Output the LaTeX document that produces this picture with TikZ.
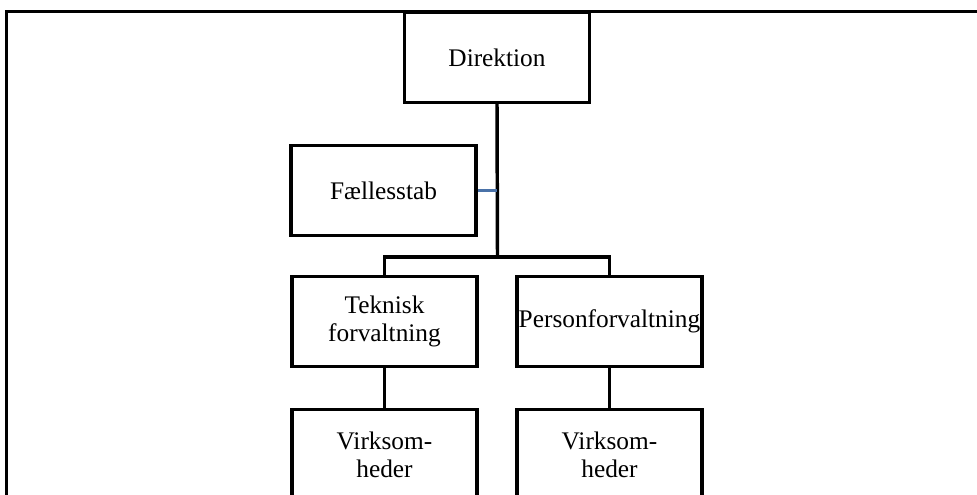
\documentclass[tikz,border=0pt]{standalone}
\usepackage{fontspec}
\setmainfont{Liberation Serif}
\definecolor{stabblue}{HTML}{4A72A8}

\begin{document}
\begin{tikzpicture}[x=0.75pt,y=-0.75pt,
  box/.style={draw,line width=2.6pt,minimum width=139pt,minimum height=67.5pt,
    inner sep=0pt,align=center,font=\fontsize{19}{21}\selectfont},
  link/.style={line width=2.6pt},
  stablink/.style={line width=2.4pt,draw=stabblue}]
\useasboundingbox (0,0) rectangle (977,495);
\clip (0,0) rectangle (977,495);

% ramme
\draw[link] (6.5,495) -- (6.5,11.5) -- (977,11.5);

\node[box] (dir) at (497,57.5) {Direktion};
\node[box] (stab) at (383.5,190.5) {Fællesstab};
\node[box] (tek) at (384.5,321.5) {Teknisk\\forvaltning};
\node[box] (per) at (609.5,321.5) {Personforvaltning};
\node[box] (virk1) at (384.5,454.5) {Virksom-\\heder};
\node[box] (virk2) at (609.5,454.5) {Virksom-\\heder};

\coordinate (bus) at (497.5,257);

\draw[link] (dir.south) -- (bus);
\draw[link] (tek.north) |- (bus) -| (per.north);
\draw[stablink] (stab.east) -- (stab.east -| dir.south);
\draw[link] (tek.south) -- (virk1.north);
\draw[link] (per.south) -- (virk2.north);
\end{tikzpicture}
\end{document}
